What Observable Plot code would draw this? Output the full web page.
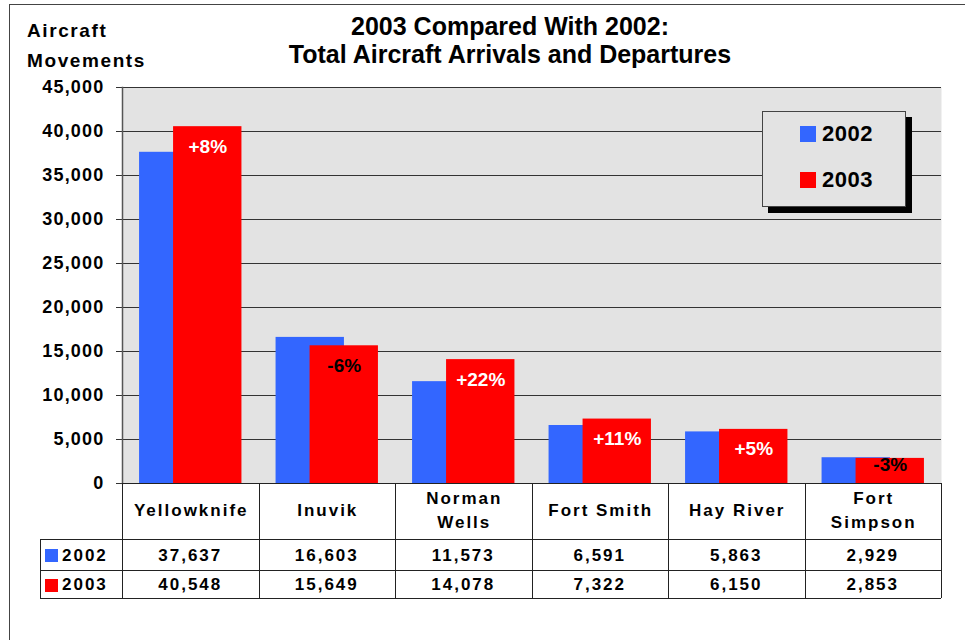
<!DOCTYPE html>
<html><head><meta charset="utf-8">
<script src="https://cdn.jsdelivr.net/npm/d3@7"></script>
<script src="https://cdn.jsdelivr.net/npm/@observablehq/plot@0.6"></script>
<style>
body{margin:0;background:#fff;font-family:"Liberation Sans",Arial,sans-serif;}
#wrap{position:relative;width:965px;height:640px;overflow:hidden;background:#fff;}
#wrap svg{position:absolute;left:0;top:0;}
.abs{position:absolute;}
.title{left:210px;width:600px;top:12px;text-align:center;font-weight:bold;font-size:25px;line-height:28px;color:#000;}
.ylab{left:27px;top:16px;font-weight:bold;font-size:19px;line-height:30px;letter-spacing:1.6px;}
.frameT{left:10px;top:4px;width:960px;height:0;border-top:1.5px solid #444;}
.frameL{left:9px;top:4px;width:0;height:640px;border-left:1.5px solid #444;}
.legend{left:762px;top:111px;width:142px;height:94px;background:#E3E3E3;border:1px solid #444;box-shadow:6px 6px 0 #000;}
.litem{position:absolute;left:37px;font-weight:bold;font-size:22px;line-height:26px;display:flex;align-items:center;letter-spacing:0.5px;}
.sw{display:inline-block;width:16px;height:16px;margin-right:6px;}
.hl{position:absolute;height:0;border-top:1px solid #222;}
.vl{position:absolute;width:0;border-left:1px solid #222;}
.cell{position:absolute;display:flex;align-items:center;justify-content:center;text-align:center;font-weight:bold;font-size:17px;line-height:24px;letter-spacing:2px;color:#000;}
</style>
</head><body>
<div id="wrap"></div>
<script>
const categories = ["Yellowknife","Inuvik","Norman Wells","Fort Smith","Hay River","Fort Simpson"];
const categoryLines = [["Yellowknife"],["Inuvik"],["Norman","Wells"],["Fort Smith"],["Hay River"],["Fort","Simpson"]];
const seriesNames = ["2002","2003"];
const seriesColors = ["#3366FF","#FF0000"];
const values2002 = [37637,16603,11573,6591,5863,2929];
const values2003 = [40548,15649,14078,7322,6150,2853];
const changeLabels = ["+8%","-6%","+22%","+11%","+5%","-3%"];
const yTicks = [0,5000,10000,15000,20000,25000,30000,35000,40000,45000];

const data = categories.map((c,i)=>({city:c, v2002:values2002[i], v2003:values2003[i], change:changeLabels[i]}));
const fmt = d3.format(",");

const chart = Plot.plot({
  width: 965, height: 640,
  marginLeft: 122, marginRight: 24, marginTop: 87, marginBottom: 157,
  style: {fontFamily: '"Liberation Sans", Arial, sans-serif', background: "white", color: "#000"},
  x: {domain: categories, paddingInner: 0.25, paddingOuter: 0.125, round: false, axis: null},
  y: {domain: [0,45000], axis: null},
  marks: [
    Plot.frame({fill: "#E3E3E3", stroke: null}),
    Plot.ruleY(yTicks.filter(d=>d>0), {stroke: "#333", strokeWidth: 1.2}),
    Plot.barY(data, {x: "city", y: "v2002", fill: seriesColors[0], insetLeft: 0, insetRight: 34}),
    Plot.barY(data, {x: "city", y: "v2003", fill: seriesColors[1], insetLeft: 34, insetRight: 0}),
    Plot.text(data.filter(d=>d.v2003>=5000), {x: "city", y: "v2003", text: "change", dx: 17, dy: 20,
      fill: d => d.change.startsWith("-") ? "#000" : "#fff", fontSize: 19, fontWeight: "bold"}),
    Plot.text(data.filter(d=>d.v2003<5000), {x: "city", y: "v2003", text: "change", dx: 17, dy: 7,
      fill: d => d.change.startsWith("-") ? "#000" : "#fff", fontSize: 19, fontWeight: "bold"}),
    Plot.axisY({ticks: yTicks, tickFormat: fmt, tickSize: 6, tickPadding: 12, fontSize: 18, fontWeight: "bold", label: null, stroke: "#333", color: "#000"}),
    Plot.frame({anchor: "left", stroke: "#555", strokeWidth: 1.5})
  ]
});
const wrap = document.getElementById("wrap");
chart.querySelectorAll('g[aria-label="y-axis tick label"] text').forEach(t=>t.setAttribute("letter-spacing","1.2"));
wrap.appendChild(chart);

function add(cls, style, html){
  const d = document.createElement("div");
  d.className = cls; if (style) d.setAttribute("style", style);
  if (html != null) d.innerHTML = html;
  wrap.appendChild(d); return d;
}
add("abs frameT"); add("abs frameL");
add("abs title", null, "2003 Compared With 2002:<br>Total Aircraft Arrivals and Departures");
add("abs ylab", null, "Aircraft<br>Movements");

const lg = add("abs legend");
seriesNames.forEach((s,i)=>{
  const it = document.createElement("div");
  it.className = "litem";
  it.style.top = (9 + i*46) + "px";
  it.innerHTML = `<span class="sw" style="background:${seriesColors[i]}"></span>${s}`;
  lg.appendChild(it);
});

// data table aligned to the x band scale
const xs = chart.scale("x");
const step = xs.step, bw = xs.bandwidth;
const cellLeft = c => xs.apply(c) - (step - bw)/2;
const x0 = cellLeft(categories[0]);
const x1 = cellLeft(categories[categories.length-1]) + step;
const yS = chart.scale("y");
const tTop = yS.apply(0), hBot = tTop + 56, r1Bot = hBot + 31, r2Bot = r1Bot + 28;
const lblLeft = 40;
add("hl", `left:${x0}px;top:${tTop}px;width:${x1-x0}px`);
[hBot, r1Bot, r2Bot].forEach(y=>add("hl", `left:${lblLeft}px;top:${y}px;width:${x1-lblLeft}px`));
add("vl", `left:${lblLeft}px;top:${hBot}px;height:${r2Bot-hBot}px`);
categories.forEach(c=>add("vl", `left:${cellLeft(c)}px;top:${tTop}px;height:${r2Bot-tTop}px`));
add("vl", `left:${x1}px;top:${tTop}px;height:${r2Bot-tTop}px`);

categories.forEach((c,i)=>{
  const l = cellLeft(c);
  add("cell", `left:${l}px;top:${tTop}px;width:${step}px;height:${hBot-tTop}px;padding-left:1px`, categoryLines[i].join("<br>"));
  add("cell", `left:${l}px;top:${hBot+1}px;width:${step}px;height:${r1Bot-hBot}px;padding-left:0px`, fmt(values2002[i]));
  add("cell", `left:${l}px;top:${r1Bot+1}px;width:${step}px;height:${r2Bot-r1Bot}px;padding-left:0px`, fmt(values2003[i]));
});
[[hBot,r1Bot],[r1Bot,r2Bot]].forEach(([a,b],i)=>{
  add("cell", `left:${lblLeft+5}px;top:${a+1}px;height:${b-a}px;justify-content:flex-start`,
    `<span style="display:inline-block;width:13px;height:13px;background:${seriesColors[i]};margin-right:4px"></span>${seriesNames[i]}`);
});
</script>
</body></html>
